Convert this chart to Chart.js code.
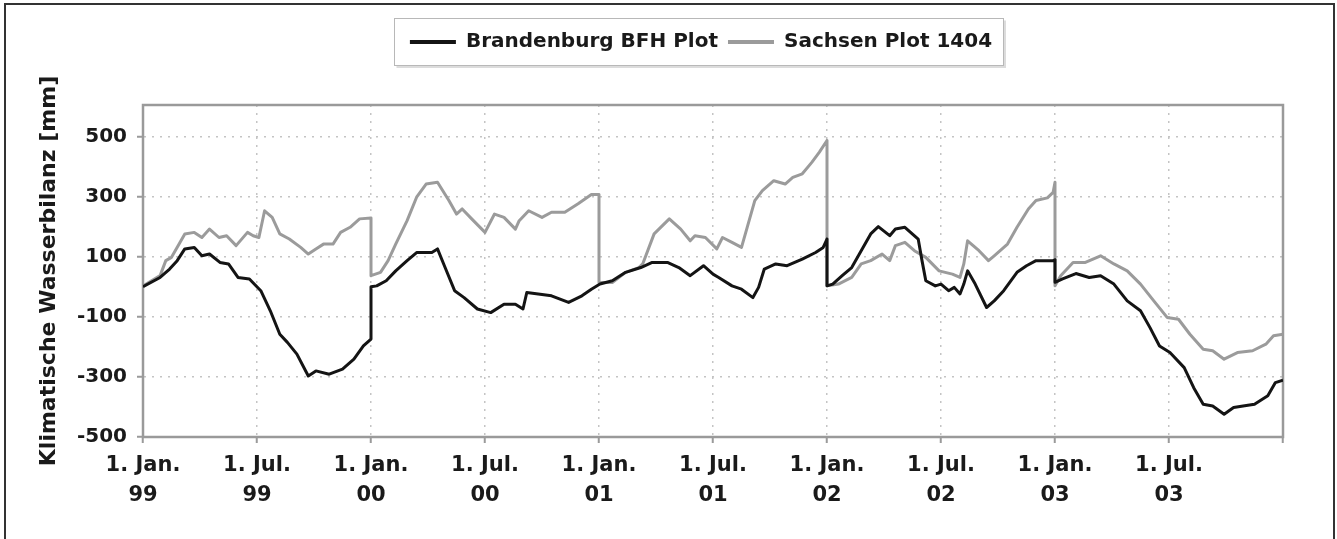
<!DOCTYPE html>
<html>
<head>
<meta charset="utf-8">
<script src="https://cdn.jsdelivr.net/npm/chart.js@4.4.0/dist/chart.umd.min.js"></script>
<style>
html,body{margin:0;padding:0;background:#fff;overflow:hidden;}
#wrap{position:relative;width:1337px;height:539px;}
#frame{position:absolute;left:4px;top:3px;width:1331px;height:560px;border:2px solid #333;border-bottom:none;box-sizing:border-box;pointer-events:none;}
canvas{position:absolute;left:0;top:0;}
</style>
</head>
<body>
<div id="wrap"><canvas id="c" width="1337" height="539"></canvas><div id="frame"></div></div>
<script>
// ---- data (x in months since 1 Jan 1999) ----
const seriesNames = ['Brandenburg BFH Plot', 'Sachsen Plot 1404'];
const yAxisTitle = 'Klimatische Wasserbilanz [mm]';
const xTickMonths = [0, 6, 12, 18, 24, 30, 36, 42, 48, 54, 60];
const xTickLabels = [
  ['1. Jan.', '99'], ['1. Jul.', '99'], ['1. Jan.', '00'], ['1. Jul.', '00'],
  ['1. Jan.', '01'], ['1. Jul.', '01'], ['1. Jan.', '02'], ['1. Jul.', '02'],
  ['1. Jan.', '03'], ['1. Jul.', '03'], ''
];
const yTickValues = [-500, -300, -100, 100, 300, 500];

const brandenburgMonths = [
  0, 0.9, 1.4, 1.8, 2.2, 2.7, 3.1, 3.5, 4.05, 4.5, 5.0, 5.6, 6.2, 6.7, 7.2, 7.6, 8.1, 8.7, 9.1, 9.8, 10.5, 11.1, 11.6, 12,
  12, 12.3, 12.8, 13.3, 13.9, 14.4, 14.9, 15.2, 15.5, 15.9, 16.4, 16.9, 17.6, 18.3, 19.0, 19.6, 20.0, 20.2, 20.8, 21.5, 22.4, 23.1, 23.6,
  24.05, 24.7, 25.4, 26.2, 26.8, 27.6, 28.2, 28.8, 29.5, 30.0, 30.3, 31.0, 31.5, 32.1, 32.4, 32.7, 33.3, 33.9, 34.7, 35.4, 35.8, 36,
  36, 36.3, 36.8, 37.3, 37.8, 38.3, 38.7, 39.3, 39.6, 40.1, 40.8, 41.0, 41.2, 41.7, 42.0, 42.4, 42.7, 43.0, 43.2, 43.4, 43.8, 44.4, 44.8, 45.3, 46.0, 46.5, 47.0, 47.9, 48,
  48, 48.4, 49.1, 49.8, 50.4, 51.1, 51.8, 52.5, 53.0, 53.5, 54.05, 54.8, 55.3, 55.8, 56.3, 56.9, 57.4, 57.9, 58.5, 59.2, 59.6, 60
];
const brandenburgValues = [
  0, 31, 59, 87, 126, 131, 103, 109, 81, 76, 31, 26, -13, -80, -158, -185, -224, -297, -280, -291, -274, -241, -197, -174,
  0, 3, 20, 53, 87, 114, 114, 114, 126, 64, -13, -36, -74, -86, -58, -58, -74, -19, -24, -30, -52, -30, -8,
  9, 20, 48, 64, 81, 81, 64, 37, 70, 42, 31, 3, -8, -36, -2, 59, 76, 70, 92, 114, 131, 159,
  3, 9, 37, 64, 120, 176, 200, 170, 192, 198, 159, 87, 20, 3, 9, -13, -2, -24, 9, 53, 9, -69, -47, -13, 48, 70, 87, 87, 90,
  15, 26, 44, 31, 37, 9, -47, -80, -136, -197, -219, -269, -336, -391, -397, -424, -402, -397, -391, -363, -319, -311
];

const sachsenMonths = [
  0, 0.9, 1.2, 1.5, 1.9, 2.2, 2.7, 3.1, 3.5, 4.0, 4.4, 4.9, 5.5, 5.8, 6.1, 6.4, 6.8, 7.2, 7.7, 8.3, 8.7, 9.1, 9.5, 10.0, 10.4, 10.9, 11.4, 12,
  12, 12.5, 12.9, 13.3, 13.9, 14.4, 14.9, 15.5, 16.1, 16.5, 16.8, 17.3, 18.0, 18.5, 19.0, 19.6, 19.8, 20.3, 21.0, 21.5, 22.2, 22.9, 23.6, 24,
  24, 24.7, 25.4, 26.1, 26.3, 26.9, 27.7, 28.3, 28.8, 29.05, 29.6, 30.2, 30.5, 31.0, 31.5, 31.8, 32.2, 32.6, 33.2, 33.8, 34.2, 34.7, 35.2, 35.6, 36,
  36, 36.6, 37.3, 37.8, 38.3, 38.9, 39.3, 39.6, 40.1, 40.6, 41.2, 41.9, 42.6, 43.0, 43.2, 43.4, 44.0, 44.5, 44.8, 45.5, 46.0, 46.6, 47.0, 47.6, 47.9, 48,
  48, 48.3, 48.95, 49.6, 50.4, 51.1, 51.8, 52.5, 53.2, 53.9, 54.5, 55.1, 55.8, 56.3, 56.9, 57.6, 58.4, 59.1, 59.5, 60
];
const sachsenValues = [
  3, 37, 87, 98, 142, 176, 181, 164, 192, 164, 170, 137, 181, 170, 164, 253, 231, 176, 159, 131, 109, 126, 142, 142, 181, 198, 226, 229,
  37, 48, 87, 142, 220, 298, 342, 348, 287, 242, 259, 226, 181, 242, 231, 192, 220, 253, 231, 248, 248, 276, 307, 307,
  14, 14, 48, 64, 76, 176, 226, 192, 153, 170, 164, 126, 164, 148, 131, 198, 287, 320, 353, 342, 364, 376, 414, 448, 487,
  3, 9, 31, 76, 87, 109, 87, 137, 148, 120, 98, 53, 42, 31, 76, 153, 120, 87, 103, 142, 198, 259, 287, 296, 314, 348,
  3, 37, 81, 81, 103, 76, 53, 9, -47, -102, -108, -158, -208, -213, -241, -219, -213, -191, -163, -158
];

// ---- chart ----
Chart.defaults.font.family = "'DejaVu Sans', sans-serif";
Chart.defaults.color = '#1a1a1a';

const toPoints = (xs, ys) => xs.map((x, i) => ({ x: x, y: ys[i] }));

const LEGEND_SHIFT = -12;
const legendSpacer = {
  id: 'legendSpacer',
  beforeLayout(chart) {
    const lg = chart.legend;
    if (lg && !lg.__wrapped) {
      const origFit = lg.fit;
      lg.fit = function () { origFit.call(this); this.height += 43; };
      const wrapShift = name => {
        const orig = lg[name];
        lg[name] = function () {
          this.left += LEGEND_SHIFT; this.right += LEGEND_SHIFT;
          const r = orig.apply(this, arguments);
          this.left -= LEGEND_SHIFT; this.right -= LEGEND_SHIFT;
          return r;
        };
      };
      wrapShift('draw');
      wrapShift('adjustHitBoxes');
      lg.__wrapped = true;
    }
  }
};

const plotFrame = {
  id: 'plotFrame',
  beforeDatasetsDraw(chart) {
    const a = chart.chartArea, ctx = chart.ctx;
    ctx.save();
    ctx.strokeStyle = '#9a9a9a';
    ctx.lineWidth = 2.5;
    ctx.strokeRect(a.left, a.top, a.right - a.left, a.bottom - a.top);
    ctx.restore();
  }
};

const legendFrame = {
  id: 'legendFrame',
  afterDraw(chart) {
    const lg = chart.legend;
    if (!lg || !lg.legendHitBoxes || !lg.legendHitBoxes.length) return;
    let l = Infinity, r = -Infinity, t = Infinity, b = -Infinity;
    lg.legendHitBoxes.forEach(h => {
      l = Math.min(l, h.left); r = Math.max(r, h.left + h.width);
      t = Math.min(t, h.top); b = Math.max(b, h.top + h.height);
    });
    const x0 = Math.round(l - 16) + 0.5, x1 = Math.round(r + 11) + 0.5;
    const y0 = Math.round(t - 14) + 0.5, y1 = Math.round(b + 13) + 0.5;
    const ctx = chart.ctx;
    ctx.save();
    ctx.strokeStyle = '#dcdcdc';
    ctx.lineWidth = 2;
    ctx.beginPath();
    ctx.moveTo(x1 + 1.5, y0 + 2); ctx.lineTo(x1 + 1.5, y1 + 1.5); ctx.lineTo(x0 + 2, y1 + 1.5);
    ctx.stroke();
    ctx.strokeStyle = '#b8b8b8';
    ctx.lineWidth = 1;
    ctx.strokeRect(x0, y0, x1 - x0, y1 - y0);
    ctx.restore();
  }
};

new Chart(document.getElementById('c'), {
  type: 'line',
  data: {
    datasets: [
      {
        label: seriesNames[0],
        data: toPoints(brandenburgMonths, brandenburgValues),
        borderColor: '#141414', backgroundColor: '#141414',
        borderWidth: 3, pointRadius: 0, tension: 0, fill: false,
        borderJoinStyle: 'round'
      },
      {
        label: seriesNames[1],
        data: toPoints(sachsenMonths, sachsenValues),
        borderColor: '#9b9b9b', backgroundColor: '#9b9b9b',
        borderWidth: 3, pointRadius: 0, tension: 0, fill: false,
        borderJoinStyle: 'round'
      }
    ]
  },
  options: {
    responsive: false,
    animation: false,
    devicePixelRatio: 1,
    layout: { padding: { top: 22, right: 54, bottom: 0, left: 0 } },
    plugins: {
      tooltip: { enabled: false },
      legend: {
        display: true,
        position: 'top',
        fullSize: false,
        labels: {
          boxWidth: 46,
          boxHeight: 4,
          padding: 10,
          color: '#1a1a1a',
          font: { size: 20, weight: 'bold' },
          generateLabels(chart) {
            return Chart.defaults.plugins.legend.labels.generateLabels(chart).map(it =>
              Object.assign(it, { fillStyle: it.strokeStyle, lineWidth: 0 }));
          }
        }
      }
    },
    scales: {
      x: {
        type: 'linear',
        position: 'bottom',
        min: 0,
        max: 60,
        afterBuildTicks(s) { s.ticks = xTickMonths.map(v => ({ value: v })); },
        afterFit(s) { s.height = 102; },
        ticks: {
          autoSkip: false,
          maxRotation: 0,
          minRotation: 0,
          padding: 7,
          color: '#1a1a1a',
          font: { size: 21, weight: 'bold', lineHeight: 1.45 },
          callback: (v, i) => xTickLabels[i]
        },
        grid: {
          color: '#c4c4c4',
          lineWidth: 1.5,
          tickLength: 6,
          tickColor: '#9a9a9a',
          tickWidth: 2
        },
        border: { display: true, color: '#9a9a9a', width: 2, dash: [2, 6] }
      },
      y: {
        type: 'linear',
        min: -500,
        max: 605,
        afterBuildTicks(s) { s.ticks = yTickValues.map(v => ({ value: v })); },
        afterFit(s) { s.width = 143; },
        ticks: {
          padding: 10,
          color: '#1a1a1a',
          font: { size: 20, weight: 'bold' },
          callback: v => String(v)
        },
        grid: {
          color: '#c4c4c4',
          lineWidth: 1.5,
          tickLength: 6,
          tickColor: '#9a9a9a',
          tickWidth: 2
        },
        border: { display: true, color: '#9a9a9a', width: 2, dash: [2, 6] },
        title: {
          display: true,
          text: yAxisTitle,
          color: '#1a1a1a',
          font: { size: 22, weight: 'bold' },
          padding: { top: 36, bottom: 0 }
        }
      }
    }
  },
  plugins: [legendSpacer, plotFrame, legendFrame]
});
</script>
</body>
</html>
